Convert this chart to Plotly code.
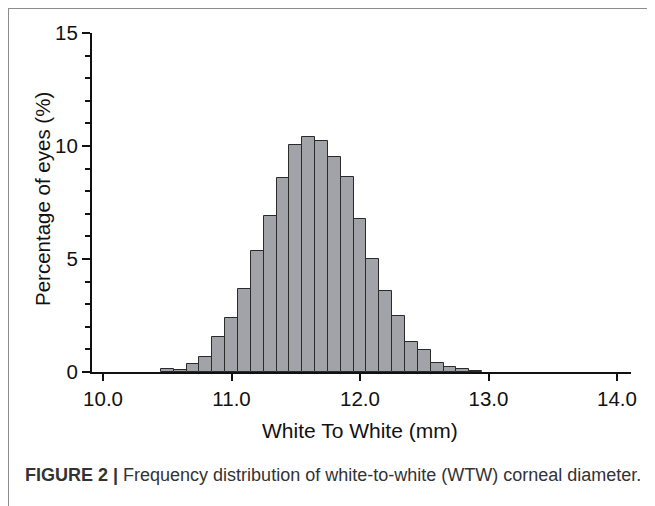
import plotly.graph_objects as go

# Data: bin centres (mm) and percentage of eyes
wtw_bins = [10.5, 10.6, 10.7, 10.8, 10.9, 11.0, 11.1, 11.2, 11.3, 11.4, 11.5, 11.6,
            11.7, 11.8, 11.9, 12.0, 12.1, 12.2, 12.3, 12.4, 12.5, 12.6, 12.7, 12.8, 12.9]
pct_eyes = [0.14, 0.09, 0.36, 0.65, 1.53, 2.37, 3.67, 5.37, 6.90, 8.57, 10.05, 10.40,
            10.24, 9.52, 8.63, 6.77, 4.98, 3.60, 2.47, 1.34, 0.99, 0.42, 0.23, 0.14, 0.06]
x_ticks = [10.0, 11.0, 12.0, 13.0, 14.0]
x_ticklabels = ["10.0", "11.0", "12.0", "13.0", "14.0"]
y_ticks = [0, 5, 10, 15]

FONT = "Liberation Sans, Arial, Helvetica, sans-serif"
OFF = 8  # browser default body margin
W, H = 655 - OFF, 506 - OFF
L, R, T, B = 92 - OFF, 24, 33 - OFF, 134
pw, ph = W - L - R, H - T - B

def px_x(px):
    # px given in window coordinates
    return (px - OFF - L) / pw

def px_y(py):
    return (H - B - (py - OFF)) / ph

fig = go.Figure()
fig.add_trace(go.Bar(
    x=wtw_bins, y=pct_eyes, width=0.1,
    marker=dict(color="#a2a2a9", line=dict(color="#2a2a2a", width=1)),
    showlegend=False,
))

fig.update_layout(
    width=W, height=H,
    margin=dict(l=L, r=R, t=T, b=B, pad=0),
    paper_bgcolor="white", plot_bgcolor="white",
    bargap=0,
    font=dict(family=FONT, color="#111111", size=20),
    xaxis=dict(
        range=[9.914, 14.109], tickvals=x_ticks, ticktext=x_ticklabels,
        showline=True, linecolor="#111111", linewidth=2,
        ticks="outside", ticklen=7, tickwidth=2, tickcolor="#111111",
        showgrid=False, zeroline=False,
        tickfont=dict(size=20.5, family=FONT, color="#111111"),
    ),
    yaxis=dict(
        range=[0, 15], tickvals=y_ticks,
        showline=True, linecolor="#111111", linewidth=2,
        ticks="outside", ticklen=8, tickwidth=2, tickcolor="#111111",
        minor=dict(dtick=1, ticks="outside", ticklen=5, tickwidth=2, tickcolor="#111111"),
        showgrid=False, zeroline=False,
        tickfont=dict(size=20.5, family=FONT, color="#111111"),
    ),
    annotations=[
        dict(text="White To White (mm)", x=px_x(360), y=px_y(430), xref="paper", yref="paper",
             xanchor="center", yanchor="middle", showarrow=False,
             font=dict(size=21, family=FONT, color="#111111")),
        dict(text="Percentage of eyes (%)", x=px_x(42), y=px_y(199), xref="paper", yref="paper",
             xanchor="center", yanchor="middle", showarrow=False, textangle=-90,
             font=dict(size=20.5, family=FONT, color="#111111")),
        dict(text="<b>FIGURE 2 |</b> Frequency distribution of white-to-white (WTW) corneal diameter.",
             x=px_x(23), y=px_y(475), xref="paper", yref="paper",
             xanchor="left", yanchor="middle", showarrow=False,
             font=dict(size=18, family=FONT, color="#333333")),
    ],
    shapes=[
        dict(type="line", xref="paper", yref="paper", x0=px_x(8), x1=px_x(8),
             y0=px_y(7), y1=px_y(530), line=dict(color="#8c8c8c", width=2)),
        dict(type="line", xref="paper", yref="paper", x0=px_x(7), x1=px_x(680),
             y0=px_y(8), y1=px_y(8), line=dict(color="#8c8c8c", width=2)),
    ],
)

fig.write_html("out.html")
